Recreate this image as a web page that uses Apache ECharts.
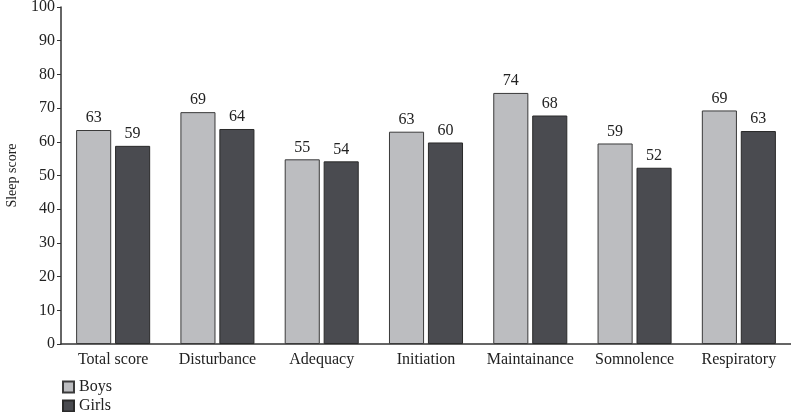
<!DOCTYPE html>
<html><head><meta charset="utf-8">
<script src="https://cdn.jsdelivr.net/npm/echarts@6/dist/echarts.min.js"></script>
<style>html,body{margin:0;padding:0;background:#fff}#c{width:791px;height:412px}</style>
</head><body><div id="c"></div>
<script>
const categories = ["Total score","Disturbance","Adequacy","Initiation","Maintainance","Somnolence","Respiratory"];
const boys = [63.5, 68.8, 54.8, 63.0, 74.5, 59.5, 69.3];
const girls = [58.8, 63.8, 54.2, 59.8, 67.8, 52.3, 63.2];
const boysLabels = [63, 69, 55, 63, 74, 59, 69];
const girlsLabels = [59, 64, 54, 60, 68, 52, 63];
const yTicks = [0,10,20,30,40,50,60,70,80,90,100];

const font = "Liberation Serif";
const legendText = {fontFamily: font, fontSize: 16, color: '#222'};
const chart = echarts.init(document.getElementById('c'));
chart.setOption({
  animation: false,
  textStyle: {fontFamily: font},
  grid: {left: 61, right: 0, top: 7, bottom: 68, containLabel: false, outerBoundsMode: 'none'},
  legend: [
    {left: 57, top: 374, itemWidth: 11, itemHeight: 11, icon: 'rect', textStyle: legendText, data: ['Boys']},
    {left: 57, top: 393, itemWidth: 11, itemHeight: 11, icon: 'rect', textStyle: legendText, data: ['Girls']}
  ],
  xAxis: {
    type: 'category', data: categories,
    axisLine: {lineStyle: {color: '#333', width: 1.5}},
    axisTick: {show: false},
    axisLabel: {interval: 0, fontFamily: font, fontSize: 16, color: '#222', margin: 8}
  },
  yAxis: {
    type: 'value', min: yTicks[0], max: yTicks[yTicks.length-1], interval: 10,
    name: 'Sleep score', nameLocation: 'middle', nameGap: 42,
    nameTextStyle: {fontFamily: font, fontSize: 14, color: '#222'},
    axisLine: {show: true, lineStyle: {color: '#333', width: 1.5}},
    axisTick: {show: true, inside: false, length: 4, lineStyle: {color: '#333'}},
    axisLabel: {fontFamily: font, fontSize: 16, color: '#222', margin: 6},
    splitLine: {show: false}
  },
  series: [
    {name: 'Boys', type: 'bar', data: boys, barGap: '11%', barCategoryGap: '29%',
     itemStyle: {color: '#bcbdc0', borderColor: '#3a3a3a', borderWidth: 1},
     label: {show: true, position: 'top', distance: 4, fontFamily: font, fontSize: 16, color: '#222',
       formatter: p => boysLabels[p.dataIndex]}},
    {name: 'Girls', type: 'bar', data: girls,
     itemStyle: {color: '#4a4b50', borderColor: '#2a2a2a', borderWidth: 1},
     label: {show: true, position: 'top', distance: 4, fontFamily: font, fontSize: 16, color: '#222',
       formatter: p => girlsLabels[p.dataIndex]}}
  ]
});
</script></body></html>
